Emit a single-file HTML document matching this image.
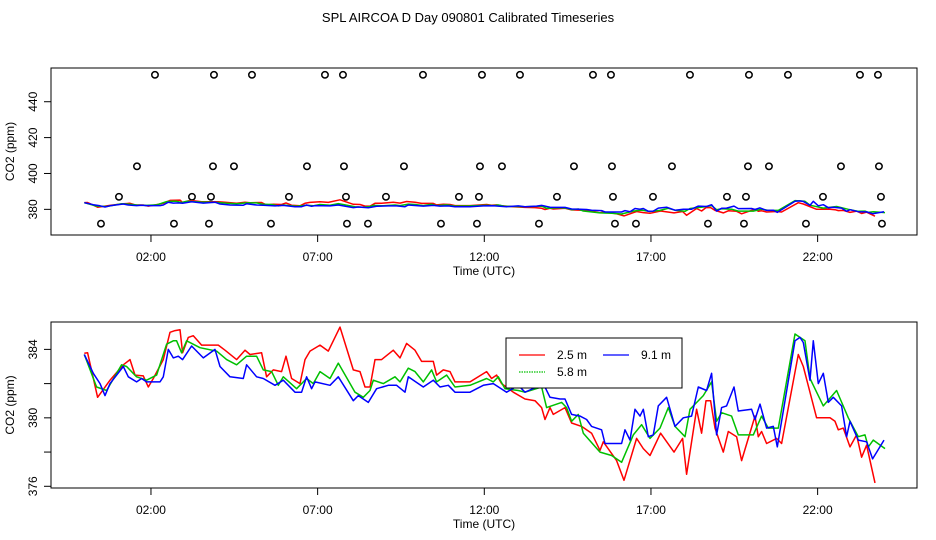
<!DOCTYPE html>
<html><head><meta charset="utf-8"><style>
body{margin:0;background:#fff;}
svg{display:block;font-family:"Liberation Sans",sans-serif;}
</style></head><body>
<svg id="chart" width="936" height="540" viewBox="0 0 936 540">
<text x="468" y="22" text-anchor="middle" font-size="13">SPL AIRCOA D  Day 090801  Calibrated Timeseries</text>
<g id="top"></g>
<g id="bot"></g>
</svg>
<script>
// ---- data ----
const xTickLabels = ["02:00","07:00","12:00","17:00","22:00"];
const xTickHours = [2,7,12,17,22];
const topYTicks = [380,400,420,440];
const botYTicks = [376,378,380,382,384];
const botYLabels = [376,380,384];
const seriesNames = ["2.5 m","5.8 m","9.1 m"];
const seriesColors = ["#ff0000","#00c000","#0000ff"];
const calLevels = [455,404,387,372];
const calHours455 = [2.12,3.89,5.03,7.22,7.76,10.16,11.93,13.07,15.26,15.80,18.17,19.94,21.11,23.27,23.81];
const calHours404 = [1.58,3.86,4.49,6.68,7.79,9.59,11.87,12.53,14.69,15.83,17.63,19.91,20.54,22.70,23.84];
const calHours387 = [1.04,3.23,3.80,6.14,7.85,9.05,11.24,11.84,14.18,15.86,17.06,19.28,19.85,22.16,23.90];
const calHours372 = [0.50,2.69,3.74,5.60,7.88,8.51,10.70,11.78,13.64,15.92,16.55,18.71,19.79,21.65,23.93];

const redH=[0,0.1,0.4,0.77,1.17,1.37,1.52,1.77,1.92,2.07,2.37,2.57,2.72,2.87,2.95,3.12,3.27,3.52,4.02,4.22,4.57,4.82,4.97,5.32,5.47,5.67,5.92,6.05,6.22,6.47,6.62,6.77,7.07,7.32,7.67,8.07,8.27,8.42,8.57,8.72,8.92,9.27,9.47,9.67,9.92,10.12,10.47,10.57,10.77,10.97,11.12,11.42,11.57,12.07,12.22,12.37,12.52,12.87,13.22,13.52,13.72,13.82,13.97,14.07,14.42,14.62,14.92,15.22,15.47,15.57,15.97,16.19,16.57,16.77,16.97,17.29,17.69,17.95,18.07,18.37,18.52,18.65,18.79,18.92,19.17,19.32,19.57,19.72,20.12,20.22,20.32,20.47,20.77,20.92,21.42,21.57,21.97,22.37,22.52,22.62,22.77,22.97,23.17,23.32,23.47,23.72];
const redV=[383.77,383.8,381.2,382.2,383.1,383.4,382.5,382.45,381.8,382.3,383.4,385.0,385.1,385.15,383.8,384.7,384.8,384.25,384.25,383.95,383.4,383.95,383.7,383.8,382.4,382.8,382.7,383.6,382.3,382.0,383.4,383.9,384.25,383.9,385.3,382.8,382.7,381.8,381.8,383.4,383.4,383.95,383.5,384.35,383.95,383.3,383.3,382.5,382.8,382.7,382.1,382.1,382.1,382.7,382.3,382.5,382.0,381.5,381.1,381.0,380.6,379.9,380.6,380.2,380.6,379.7,379.5,379.1,378.1,378.6,377.5,376.35,378.8,378.2,377.8,379.1,378.0,378.8,376.7,380.5,379.1,381.0,381.0,379.4,378.0,379.2,378.9,377.5,380.1,378.9,379.2,378.5,378.8,378.5,383.7,383.0,380.0,380.0,379.8,379.3,379.4,378.3,379.0,377.7,378.4,376.2];
const greenH=[0,0.37,0.67,1.12,1.27,1.57,1.87,2.17,2.47,2.67,2.77,2.92,3.07,3.47,3.97,4.27,4.57,4.87,5.17,5.37,5.62,5.82,5.97,6.37,6.67,6.87,7.07,7.37,7.62,8.12,8.37,8.57,8.67,8.97,9.32,9.47,9.72,9.92,10.17,10.42,10.57,10.87,11.12,11.57,12.07,12.27,12.42,12.62,13.02,13.22,13.72,13.87,14.32,14.47,14.62,14.82,14.97,15.47,15.82,16.12,16.47,16.72,16.97,17.27,17.52,17.72,18.02,18.17,18.57,18.82,18.97,19.12,19.42,19.62,20.07,20.32,20.52,20.82,21.32,21.62,21.77,22.17,22.57,22.92,23.22,23.42,23.52,23.67,24.02];
const greenV=[383.7,381.8,381.6,383.1,383.0,382.4,382.2,382.5,384.3,384.5,384.5,383.8,384.5,384.1,383.9,383.4,383.1,383.6,383.6,382.8,382.7,381.9,382.4,381.7,382.3,382.0,382.7,382.3,383.2,381.5,381.2,381.6,382.2,382.0,382.4,382.1,382.9,382.7,382.1,382.8,382.1,382.5,381.8,381.9,382.3,382.1,382.4,381.7,381.6,381.5,381.8,380.6,380.9,380.6,379.8,380.2,379.1,378.0,377.8,377.4,379.0,379.6,378.8,379.4,380.6,379.5,378.9,380.5,381.3,382.1,379.8,380.3,380.1,379.0,379.0,380.1,379.4,379.4,384.9,384.5,382.3,380.7,381.6,380.0,378.9,379.0,378.3,378.7,378.2];
const blueH=[0,0.27,0.47,0.62,0.77,1.17,1.32,1.57,1.72,1.87,2.27,2.37,2.52,2.67,2.82,2.95,3.22,3.57,3.92,4.07,4.37,4.77,4.87,5.17,5.37,5.72,5.97,6.32,6.52,6.67,6.82,6.92,7.37,7.62,8.07,8.22,8.52,8.77,9.12,9.37,9.62,9.72,10.17,10.47,10.67,10.92,11.12,11.57,11.97,12.27,12.67,13.02,13.22,13.57,13.72,13.97,14.27,14.42,14.62,14.87,15.07,15.22,15.52,15.62,16.12,16.22,16.37,16.52,16.67,16.77,16.92,17.07,17.22,17.47,17.72,17.97,18.22,18.42,18.67,18.82,18.97,19.12,19.27,19.49,19.62,20.02,20.12,20.27,20.47,20.67,20.79,21.32,21.47,21.57,21.77,21.87,22.02,22.17,22.32,22.47,22.72,22.87,22.97,23.22,23.47,23.65,23.99];
const blueV=[383.7,382.6,382.0,381.3,382.0,383.0,382.4,382.1,382.3,382.1,382.1,382.4,384.0,383.5,383.6,383.4,384.2,383.5,384.0,383.0,382.4,382.3,383.1,382.4,382.3,381.9,382.2,381.5,381.5,382.4,381.7,382.1,381.9,382.4,381.0,381.3,380.9,381.7,381.9,381.9,381.5,382.4,381.8,382.2,381.8,381.9,381.5,381.5,381.9,382.0,381.5,381.9,381.5,381.8,382.2,381.2,381.1,381.1,380.2,380.1,379.9,379.5,379.3,378.5,378.5,379.3,378.7,380.5,380.1,380.5,378.9,379.0,380.7,381.2,379.5,380.0,380.1,381.8,381.6,382.6,379.0,380.6,380.7,381.8,380.4,380.5,379.9,380.8,379.4,379.5,378.3,384.5,384.7,384.4,382.2,384.5,382.0,382.6,380.9,381.2,380.7,378.9,379.8,378.7,378.6,377.6,378.7];

const NS="http://www.w3.org/2000/svg";
function mk(tag,attrs,parent){const e=document.createElementNS(NS,tag);for(const k in attrs)e.setAttribute(k,attrs[k]);parent.appendChild(e);return e;}
const X0=51,X1=917;
const xH=h=>84.3+h*33.333;

function panel(g,top,bot,yMin,yMax,yTicks,yLabels,label){
  const yS=v=>bot-(v-yMin)/(yMax-yMin)*(bot-top);
  const box=mk('rect',{x:X0,y:top,width:X1-X0,height:bot-top,fill:'none',stroke:'#000','stroke-width':1},g);
  
  
  xTickHours.forEach((h,i)=>{
    const x=xH(h);
    const t=mk('line',{x1:x,x2:x,y1:bot,y2:bot+7,stroke:'#000'},g);
    
    
    const l=mk('text',{x:x,y:bot+26,'text-anchor':'middle','font-size':12},g);
    
    
    l.textContent=xTickLabels[i];
  });
  yTicks.forEach(v=>{
    const y=yS(v);
    const t=mk('line',{x1:X0-7,x2:X0,y1:y,y2:y,stroke:'#000'},g);
    
    
    if(yLabels.includes(v)){
      const l=mk('text',{x:0,y:0,'text-anchor':'middle','font-size':12,transform:`translate(37,${y}) rotate(-90)`},g);
      
      
      l.textContent=v;
    }
  });
  const xt=mk('text',{x:484,y:bot+40,'text-anchor':'middle','font-size':12},g);
  
  
  xt.textContent='Time (UTC)';
  const yt=mk('text',{x:0,y:0,'text-anchor':'middle','font-size':12,transform:`translate(14,${(top+bot)/2}) rotate(-90)`},g);
  
  
  yt.textContent=label;
  return yS;
}
function series(g,yS,H,V,color,name){
  const p=mk('polyline',{points:H.map((h,i)=>xH(h).toFixed(1)+','+yS(V[i]).toFixed(1)).join(' '),fill:'none',stroke:color,'stroke-width':1.5,'stroke-linejoin':'round'},g);
  
  
}
// top panel
const gt=document.getElementById('top');
const yT=panel(gt,68,235,365.7,458.8,topYTicks,topYTicks,'CO2 (ppm)');
[calHours455,calHours404,calHours387,calHours372].forEach((arr,k)=>{
  arr.forEach(h=>{
    const c=mk('circle',{cx:xH(h),cy:yT(calLevels[k]),r:3.2,fill:'none',stroke:'#000','stroke-width':1.5},gt);
    
    
  });
});
series(gt,yT,redH,redV,seriesColors[0],'series-2-5m-top');
series(gt,yT,greenH,greenV,seriesColors[1],'series-5-8m-top');
series(gt,yT,blueH,blueV,seriesColors[2],'series-9-1m-top');
// bottom panel
const gb=document.getElementById('bot');
const yB=panel(gb,322,488,375.9,385.6,botYTicks,botYLabels,'CO2 (ppm)');
series(gb,yB,redH,redV,seriesColors[0],'series-2-5m');
series(gb,yB,greenH,greenV,seriesColors[1],'series-5-8m');
series(gb,yB,blueH,blueV,seriesColors[2],'series-9-1m');
// legend
const lg=mk('g',{},gb);


const lb=mk('rect',{x:506,y:338,width:176,height:50,fill:'#fff',stroke:'#000'},lg);


const legPos=[[519,355],[519,372],[603,355]];
legPos.forEach((p,i)=>{
  const ln=mk('line',{x1:p[0],x2:p[0]+26,y1:p[1],y2:p[1],stroke:seriesColors[i],'stroke-width':1.2,'stroke-dasharray':i===1?'1.5,1':'none'},lg);
  
  
  const tx=mk('text',{x:p[0]+38,y:p[1]+4,'font-size':12},lg);
  
  
  tx.textContent=seriesNames[i];
});
</script>
</body></html>
